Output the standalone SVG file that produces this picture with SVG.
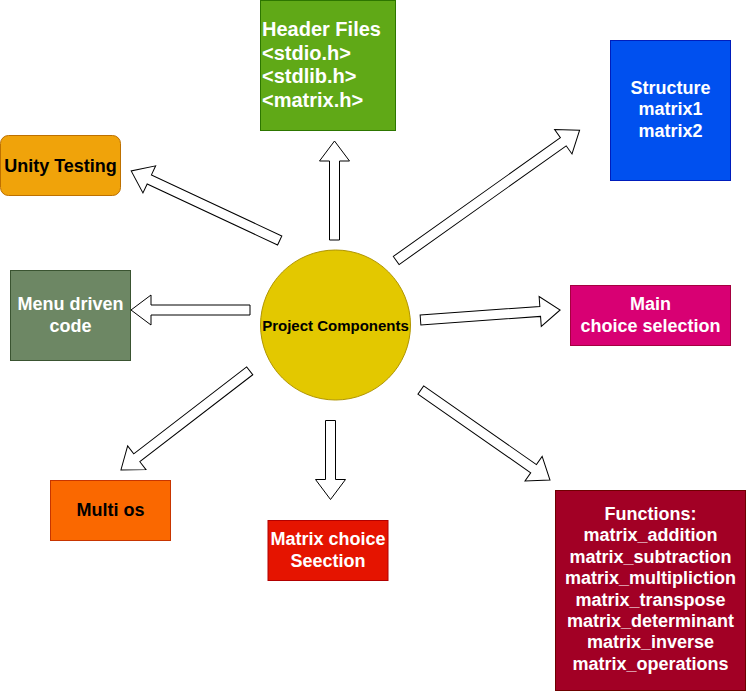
<svg xmlns="http://www.w3.org/2000/svg" width="747" height="692" viewBox="0 0 747 692">
<style>
text{font-family:"Liberation Sans",Arial,sans-serif;font-weight:bold;}
.w{fill:#ffffff;}
.k{fill:#000000;}
.c{text-anchor:middle;}
.arr{fill:#ffffff;stroke:#000000;stroke-width:1;}
</style>
<rect width="747" height="692" fill="#ffffff"/>
<g id="connectors">
<polygon class="arr" transform="translate(279.7,240.5) rotate(-154.9)" points="0,-5 144,-5 144,-15 164,0 144,15 144,5 0,5"/>
<polygon class="arr" transform="translate(334.5,240) rotate(-90)" points="0,-5 79,-5 79,-15 99,0 79,15 79,5 0,5"/>
<polygon class="arr" transform="translate(396.2,260.5) rotate(-35.4)" points="0,-5 205,-5 205,-15 225,0 205,15 205,5 0,5"/>
<polygon class="arr" transform="translate(250,310) rotate(180)" points="0,-5 99,-5 99,-15 119,0 99,15 99,5 0,5"/>
<polygon class="arr" transform="translate(420.5,320) rotate(-4.1)" points="0,-5 120,-5 120,-15 140,0 120,15 120,5 0,5"/>
<polygon class="arr" transform="translate(249.7,370.8) rotate(142.4)" points="0,-5 142.5,-5 142.5,-15 162.5,0 142.5,15 142.5,5 0,5"/>
<polygon class="arr" transform="translate(330.5,420.5) rotate(90)" points="0,-5 59,-5 59,-15 79,0 59,15 59,5 0,5"/>
<polygon class="arr" transform="translate(420.8,390) rotate(34.9)" points="0,-5 137.5,-5 137.5,-15 157.5,0 137.5,15 137.5,5 0,5"/>
</g>
<g id="center">
<circle cx="335.5" cy="325" r="75" fill="#e3c800" stroke="#B09500"/>
<text class="k c" x="335.5" y="330.5" font-size="15">Project Components</text>
</g>
<g id="header">
<rect x="260.5" y="0.5" width="135" height="130" fill="#60a917" stroke="#2D7600"/>
<text class="w" x="262" y="36" font-size="20">Header Files</text>
<text class="w" x="262" y="59.5" font-size="20">&lt;stdio.h&gt;</text>
<text class="w" x="262" y="83" font-size="20">&lt;stdlib.h&gt;</text>
<text class="w" x="262" y="106.5" font-size="20">&lt;matrix.h&gt;</text>
</g>
<g id="unity">
<rect x="0.5" y="135.5" width="120" height="60" rx="8" fill="#f0a30a" stroke="#BD7000"/>
<text class="k c" x="60.5" y="171.5" font-size="18">Unity Testing</text>
</g>
<g id="menu">
<rect x="10.5" y="270.5" width="120" height="90" fill="#6d8764" stroke="#3A5431"/>
<text class="w c" x="70.5" y="310" font-size="18">Menu driven</text>
<text class="w c" x="70.5" y="331.5" font-size="18">code</text>
</g>
<g id="structure">
<rect x="610.5" y="40.5" width="120" height="140" fill="#0050ef" stroke="#001DBC"/>
<text class="w c" x="670.5" y="93.5" font-size="18">Structure</text>
<text class="w c" x="670.5" y="115" font-size="18">matrix1</text>
<text class="w c" x="670.5" y="136.5" font-size="18">matrix2</text>
</g>
<g id="main">
<rect x="570.5" y="285.5" width="160" height="60" fill="#d80073" stroke="#A50040"/>
<text class="w c" x="650.5" y="309.5" font-size="18">Main</text>
<text class="w c" x="650.5" y="331.5" font-size="18">choice selection</text>
</g>
<g id="multios">
<rect x="50.5" y="480.5" width="120" height="60" fill="#fa6800" stroke="#C73500"/>
<text class="k c" x="110.5" y="516" font-size="18">Multi os</text>
</g>
<g id="matrixchoice">
<rect x="268" y="520.5" width="120" height="60" fill="#e51400" stroke="#B20000"/>
<text class="w c" x="328" y="545" font-size="18">Matrix choice</text>
<text class="w c" x="328" y="566.5" font-size="18">Seection</text>
</g>
<g id="functions">
<rect x="555.5" y="490.5" width="190" height="200" fill="#a20025" stroke="#6F0000"/>
<text class="w c" x="650.5" y="520" font-size="18">Functions:</text>
<text class="w c" x="650.5" y="541.4" font-size="18">matrix_addition</text>
<text class="w c" x="650.5" y="562.8" font-size="18">matrix_subtraction</text>
<text class="w c" x="650.5" y="584.2" font-size="18">matrix_multipliction</text>
<text class="w c" x="650.5" y="605.6" font-size="18">matrix_transpose</text>
<text class="w c" x="650.5" y="627" font-size="18">matrix_determinant</text>
<text class="w c" x="650.5" y="648.4" font-size="18">matrix_inverse</text>
<text class="w c" x="650.5" y="669.8" font-size="18">matrix_operations</text>
</g>
</svg>
